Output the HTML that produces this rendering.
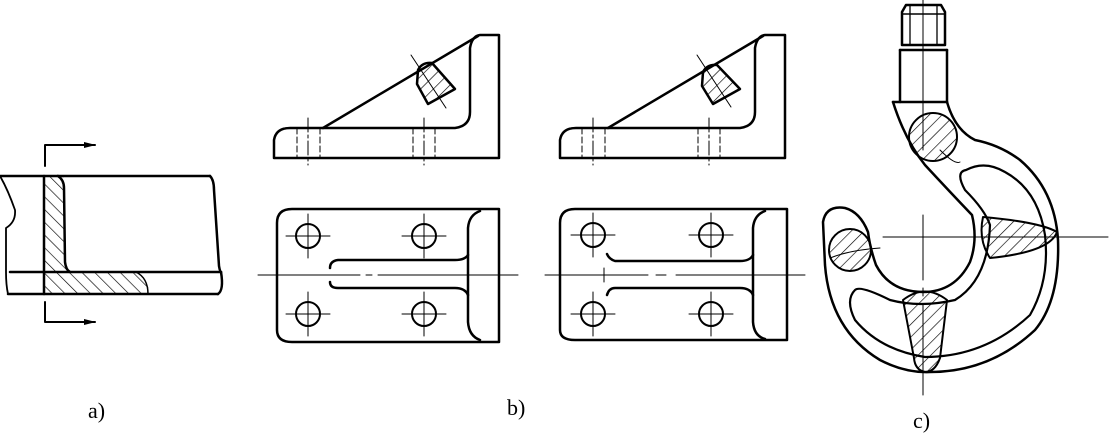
<!DOCTYPE html>
<html><head><meta charset="utf-8"><style>
html,body{margin:0;padding:0;background:#fff;width:1110px;height:439px;overflow:hidden}
svg{display:block}
text{font-family:"Liberation Serif",serif;font-size:22px;fill:#000}
</style></head><body>
<svg width="1110" height="439" viewBox="0 0 1110 439" xmlns="http://www.w3.org/2000/svg">
<defs>
<pattern id="h" patternUnits="userSpaceOnUse" width="9" height="9" patternTransform="rotate(45)">
<line x1="0" y1="0" x2="0" y2="9" stroke="#000" stroke-width="1.3"/>
</pattern>
<pattern id="h2" patternUnits="userSpaceOnUse" width="9" height="9" patternTransform="rotate(-45)">
<line x1="0" y1="0" x2="0" y2="9" stroke="#000" stroke-width="1.3"/>
</pattern>
<marker id="ar" markerWidth="12" markerHeight="8" refX="11" refY="4" orient="auto" markerUnits="userSpaceOnUse">
<path d="M0,1 L12,4 L0,7 Z" fill="#000"/>
</marker>
</defs>
<g fill="none" stroke="#000" stroke-width="2.5" stroke-linecap="round" stroke-linejoin="round">
<!-- a -->
<path d="M44,176 L64,176 Q60,182 64,190 L65,262 Q66,270 70,272 L44,272 Z" fill="url(#h2)" stroke="none"/>
<path d="M44,272 L140,272 Q150,280 148,294 L44,294 Z" fill="url(#h2)" stroke="none"/>
<path d="M58,176 Q64,180 64,188 L65,262 Q66,270 70,272"/>
<path d="M136,272 Q148,278 148,294" stroke-width="1.5"/>
<line x1="0" y1="176" x2="210" y2="176"/>
<path d="M210,176 Q214,180 214,190 L219,266 Q220,272 221,272"/>
<line x1="10" y1="272" x2="221" y2="272"/>
<path d="M221,272 Q224,290 218,294"/>
<line x1="8" y1="294" x2="218" y2="294"/>
<path d="M0,176 Q8,190 15,210 Q16,222 6,228 L6,272 Q6,285 8,294" stroke-width="1.8"/>
<line x1="44" y1="176" x2="44" y2="294"/>
<path d="M45,166 L45,145 L95,145" marker-end="url(#ar)" stroke-width="2"/>
<path d="M45,302 L45,322 L95,322" marker-end="url(#ar)" stroke-width="2"/>

<!-- b left top -->
<path d="M274,158 L274,140 Q276,128 290,128 L455,128 Q470,126 470,112 L470,48 Q472,36 480,35 L499,35 L499,158 Z"/>
<path d="M323,128 L478,36"/>
<g stroke-width="1" stroke-dasharray="6,3"><line x1="297" y1="128" x2="297" y2="158"/><line x1="320" y1="128" x2="320" y2="158"/><line x1="413" y1="128" x2="413" y2="158"/><line x1="435" y1="128" x2="435" y2="158"/></g>
<g stroke-width="1" stroke-dasharray="14,3,3,3"><line x1="308" y1="118" x2="308" y2="165"/><line x1="424" y1="118" x2="424" y2="165"/></g>
<path d="M418,70 Q422,62 432,63 L455,89 L428,104 L417,84 Z" fill="url(#h)"/>
<line x1="411" y1="55" x2="446" y2="108" stroke-width="1"/>

<!-- b left bottom -->
<path d="M277,330 L277,223 Q277,209 292,209 L499,209 L499,342 L292,342 Q277,342 277,330 Z"/>
<path d="M480,211 Q469,215 468,228 L468,322 Q469,336 480,340"/>
<path d="M468,255 Q465,260 455,260 L338,260 Q330,261 330,268 M330,282 Q330,288 338,288 L455,288 Q465,288 468,295"/>
<g stroke-width="2"><circle cx="308" cy="236" r="12"/><circle cx="424" cy="236" r="12"/><circle cx="308" cy="314" r="12"/><circle cx="424" cy="314" r="12"/></g>
<g stroke-width="1"><path d="M286,236 H330 M308,214 V258 M402,236 H446 M424,214 V258 M286,314 H330 M308,292 V336 M402,314 H446 M424,292 V336"/><path d="M258,275 H360 M366,275 H372 M378,275 H518"/></g>

<!-- b right top -->
<path d="M560,158 L560,140 Q562,128 576,128 L740,128 Q755,126 755,112 L755,48 Q757,36 765,35 L785,35 L785,158 Z"/>
<path d="M608,128 L763,36"/>
<g stroke-width="1" stroke-dasharray="6,3"><line x1="582" y1="128" x2="582" y2="158"/><line x1="605" y1="128" x2="605" y2="158"/><line x1="698" y1="128" x2="698" y2="158"/><line x1="720" y1="128" x2="720" y2="158"/></g>
<g stroke-width="1" stroke-dasharray="14,3,3,3"><line x1="593" y1="118" x2="593" y2="165"/><line x1="709" y1="118" x2="709" y2="165"/></g>
<path d="M703,72 Q707,64 717,65 L740,89 L713,104 L702,86 Z" fill="url(#h)"/>
<line x1="697" y1="55" x2="731" y2="107" stroke-width="1"/>

<!-- b right bottom -->
<path d="M560,330 L560,223 Q560,209 575,209 L787,209 L787,340 L575,340 Q560,340 560,330 Z"/>
<path d="M765,211 Q754,215 753,228 L753,322 Q754,336 765,339"/>
<path d="M753,255 Q750,261 740,261 L615,261 Q609,259 607,254 M607,295 Q609,288 615,288 L740,288 Q750,288 753,295"/>
<g stroke-width="2"><circle cx="593" cy="235" r="12"/><circle cx="711" cy="235" r="12"/><circle cx="593" cy="314" r="12"/><circle cx="711" cy="314" r="12"/></g>
<g stroke-width="1"><path d="M571,235 H615 M593,213 V257 M689,235 H733 M711,213 V257 M571,314 H615 M593,292 V336 M689,314 H733 M711,292 V336"/><path d="M545,275 H648 M656,275 H666 M676,275 H805 M604,268 V282"/></g>

<!-- hook -->
<path d="M902,45 L902,12 L906,5 L941,5 L945,12 L945,45 Z"/>
<line x1="902" y1="14" x2="945" y2="14" stroke-width="1.5"/>
<line x1="910" y1="5" x2="910" y2="45" stroke-width="1.3"/>
<line x1="937" y1="5" x2="937" y2="45" stroke-width="1.3"/>
<line x1="900" y1="50" x2="947" y2="50"/>
<path d="M900,50 L900,102 M947,50 L947,102"/>
<line x1="893" y1="102" x2="947" y2="102"/>
<path d="M893,102 Q905,140 925,165 Q950,192 972,215 Q978,240 970,262 Q955,292 923,292 Q890,292 876,265 Q870,248 868,232 Q860,212 845,208 Q826,205 823,222 L825,265 Q830,330 880,360 Q905,373 930,372 Q990,372 1035,330 Q1060,300 1058,240 Q1055,190 1020,160 Q1000,145 975,140 Q955,130 947,102"/>
<path d="M966,170 Q955,172 965,190 Q985,210 990,225 Q988,280 955,300 Q920,308 890,300 Q860,285 855,290 Q845,300 855,320 Q880,350 925,357 Q985,357 1030,315 Q1050,280 1045,235 Q1038,190 1005,172 Q985,160 966,170 Z" stroke-width="2.2"/>
<circle cx="933" cy="137" r="24" fill="url(#h)" stroke-width="2"/>
<circle cx="850" cy="250" r="21" fill="url(#h)" stroke-width="2"/>
<path d="M983,217 Q1040,222 1057,232 Q1050,252 990,258 Q978,240 983,217 Z" fill="url(#h)" stroke-width="2"/>
<path d="M903,300 Q925,283 947,300 L940,358 Q935,372 925,372 Q915,370 914,358 Z" fill="url(#h)" stroke-width="2"/>
<g stroke-width="1"><line x1="883" y1="237" x2="1108" y2="237"/><path d="M923,215 V280 M923,288 V296 M923,304 V395"/><line x1="923" y1="0" x2="923" y2="150"/><path d="M940,150 Q955,165 960,162"/><path d="M830,258 Q850,250 880,248"/></g>
</g>
<text x="88" y="418">a)</text>
<text x="507" y="415">b)</text>
<text x="913" y="428">c)</text>
</svg>
</body></html>
